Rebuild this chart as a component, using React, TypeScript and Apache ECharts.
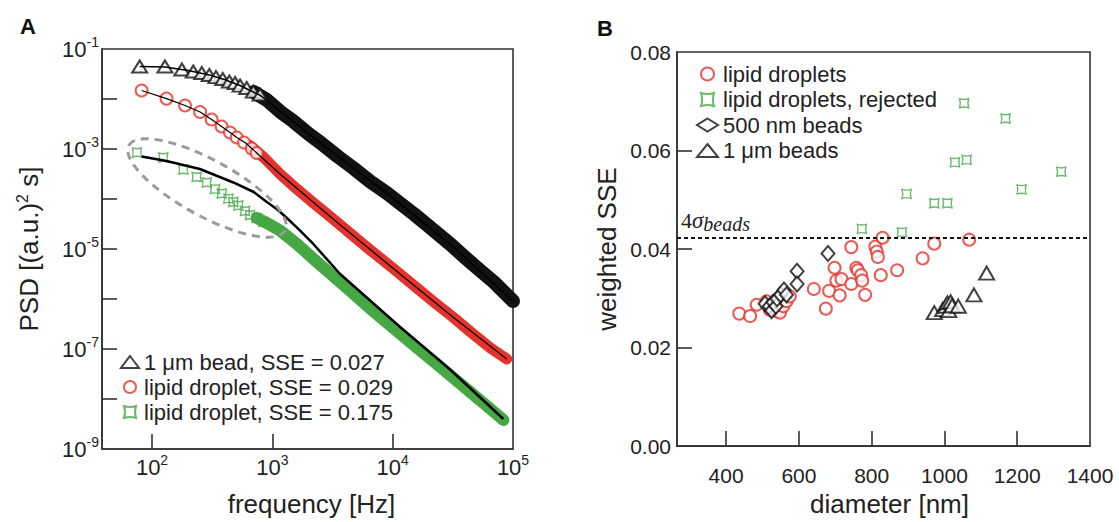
import React, { useEffect, useRef } from "react";
import * as echarts from "echarts";

// ---------- Panel A: PSD data, [frequency (Hz), PSD ((a.u.)^2 s)] ----------
// 1 um bead: individually resolved markers at low frequency
const beadMarkers: number[][] = [
  [79, 0.0447], [128, 0.0447], [177, 0.0389], [220, 0.0355], [259, 0.0331],
  [299, 0.0302], [340, 0.0275], [387, 0.0251], [439, 0.0224], [490, 0.0209],
  [539, 0.0186], [612, 0.0166], [695, 0.0141], [791, 0.0123],
];
// 1 um bead: dense (overlapping) marker band
const beadBand: number[][] = [
  [700, 0.0138], [900, 0.00955], [1159, 0.00562], [1500, 0.00355], [2000, 0.002],
  [2500, 0.00135], [3500, 7.08e-4], [4700, 4.17e-4], [6500, 2.24e-4], [8930, 1.32e-4],
  [12000, 7.59e-5], [15000, 5.01e-5], [20000, 2.82e-5], [30000, 1.26e-5],
  [40000, 6.76e-6], [53300, 3.72e-6], [70000, 2.14e-6], [100000, 9.12e-7],
];
const beadFit: number[][] = [
  [79, 0.0447], [128, 0.0437], [200, 0.0372], [300, 0.0302], [400, 0.0245],
  [550, 0.0182], [800, 0.0117], [1159, 0.00575], [2000, 0.002], [4700, 4.17e-4],
  [10000, 1.05e-4], [30000, 1.26e-5], [100000, 9.12e-7],
];

// lipid droplet, SSE = 0.029
const dropletMarkers: number[][] = [
  [82, 0.0148], [132, 0.0102], [188, 0.00741], [251, 0.0055], [313, 0.00389],
  [379, 0.00282], [445, 0.00214], [506, 0.0017], [582, 0.00135], [675, 0.00102],
  [742, 8.32e-4],
];
const dropletBand: number[][] = [
  [650, 0.00117], [850, 6.76e-4], [1159, 3.16e-4], [1600, 1.58e-4], [2200, 8.32e-5],
  [3162, 4.07e-5], [4500, 2.0e-5], [6500, 9.55e-6], [10000, 4.17e-6], [15000, 1.86e-6],
  [22000, 8.71e-7], [31623, 4.37e-7], [45000, 2.14e-7], [65000, 1.05e-7], [88700, 6.31e-8],
];
const dropletFit: number[][] = [
  [82, 0.0148], [132, 0.0102], [188, 0.00741], [251, 0.0055], [313, 0.00389],
  [379, 0.00282], [445, 0.00214], [506, 0.0017], [600, 0.00132], [742, 8.32e-4],
  [1159, 3.16e-4], [3162, 4.07e-5], [10000, 4.17e-6], [31623, 4.37e-7], [88700, 6.31e-8],
];

// lipid droplet, SSE = 0.175
const rejectedMarkers: number[][] = [
  [75, 8.51e-4], [124, 6.76e-4], [182, 3.89e-4], [235, 2.75e-4], [285, 2.14e-4],
  [334, 1.58e-4], [380, 1.29e-4], [431, 1.02e-4], [474, 8.71e-5], [522, 7.41e-5],
  [593, 5.75e-5], [653, 4.79e-5], [741, 4.17e-5], [842, 3.47e-5],
];
const rejectedBand: number[][] = [
  [741, 4.17e-5], [900, 3.31e-5], [1159, 2.34e-5], [1600, 1.26e-5], [2200, 6.31e-6],
  [3162, 2.95e-6], [4500, 1.41e-6], [6500, 6.46e-7], [10000, 2.69e-7], [15000, 1.2e-7],
  [22000, 5.62e-8], [31623, 2.69e-8], [45000, 1.32e-8], [65000, 6.31e-9], [83200, 3.8e-9],
];
const rejectedFit: number[][] = [
  [82, 7.08e-4], [132, 5.75e-4], [250, 3.98e-4], [474, 2.14e-4], [700, 1.38e-4],
  [900, 8.71e-5], [1100, 6.17e-5], [1320, 4.17e-5], [1700, 2.34e-5], [2190, 1.26e-5],
  [3656, 3.16e-6], [11530, 2.75e-7], [30000, 3.89e-8], [83200, 3.98e-9],
];

const legendA = [
  "1 μm bead, SSE = 0.027",
  "lipid droplet, SSE = 0.029",
  "lipid droplet, SSE = 0.175",
];

// ---------- Panel B: [diameter (nm), weighted SSE] ----------
const lipidDroplets: number[][] = [
  [436, 0.0269], [466, 0.0264], [484, 0.0287], [511, 0.0294], [520, 0.0277],
  [534, 0.0285], [540, 0.0274], [548, 0.0271], [557, 0.0284], [566, 0.0294],
  [575, 0.0304], [641, 0.0319], [674, 0.0279], [683, 0.0315], [698, 0.0362],
  [703, 0.0336], [712, 0.0306], [717, 0.0339], [744, 0.0404], [744, 0.0329],
  [758, 0.0362], [762, 0.0357], [771, 0.0347], [774, 0.0336], [782, 0.0307],
  [810, 0.0405], [814, 0.0395], [817, 0.0384], [830, 0.0423], [825, 0.0347],
  [870, 0.0357], [940, 0.0381], [972, 0.0411], [1068, 0.0419],
];
const lipidRejected: number[][] = [
  [773, 0.0441], [883, 0.0434], [896, 0.0512], [972, 0.0493], [1008, 0.0493],
  [1029, 0.0576], [1054, 0.0696], [1061, 0.0581], [1168, 0.0665], [1212, 0.0521],
  [1321, 0.0557],
];
const beads500: number[][] = [
  [507, 0.0289], [519, 0.0284], [525, 0.0275], [529, 0.0292], [537, 0.0284],
  [540, 0.0299], [550, 0.0307], [559, 0.0317], [566, 0.0307], [595, 0.0355],
  [595, 0.0329], [680, 0.0391],
];
const beads1um: number[][] = [
  [972, 0.0271], [995, 0.0277], [1004, 0.0284], [1008, 0.0291], [1012, 0.0275],
  [1017, 0.0293], [1021, 0.0285], [1038, 0.0284], [1081, 0.0307], [1116, 0.0351],
];
const sigmaThreshold = 0.0422;

const legendB = ["lipid droplets", "lipid droplets, rejected", "500 nm beads", "1 μm beads"];

// ---------- tick values ----------
const freqTicks = [100, 1000, 10000];
const freqLabels = [100, 1000, 10000, 100000];
const psdTicks = [1e-8, 1e-7, 1e-6, 1e-5, 1e-4, 1e-3, 1e-2];
const psdLabels = [1e-9, 1e-7, 1e-5, 1e-3, 1e-1];
const diameterTicks = [400, 600, 800, 1000, 1200];
const diameterLabels = [400, 600, 800, 1000, 1200, 1400];
const sseTicks = [0.02, 0.04, 0.06];
const sseLabels = [0, 0.02, 0.04, 0.06, 0.08];

const FONT = '"Liberation Sans", Arial, Helvetica, sans-serif';
const SERIF = '"Liberation Serif", "DejaVu Serif", serif';
const INK = "#222";
const AXIS = "#333";
const RED = "#e5322b";
const GREEN = "#45a843";
const GREEN_SYMBOL = "path://M0,0 Q5,1.6 10,0 Q8.4,5 10,10 Q5,8.4 0,10 Q1.6,5 0,0 Z";

function powLabel(v: number, allowed: number[]) {
  const e = Math.log10(v);
  const r = Math.round(e);
  if (Math.abs(e - r) > 1e-6) return "";
  if (!allowed.some((a) => Math.abs(Math.log10(a) - r) < 1e-6)) return "";
  return `{b|10}{s|${r}}`;
}

const supRich = {
  b: { fontSize: 22, fontFamily: FONT, color: INK },
  s: { fontSize: 14, fontFamily: FONT, color: INK, padding: [0, 0, 14, 0] },
};

export default function App() {
  const ref = useRef<HTMLDivElement>(null);
  useEffect(() => {
    if (!ref.current) return;
    const chart = echarts.init(ref.current, null, { renderer: "svg" });
    const lineCommon = { type: "line", symbol: "none", showSymbol: false, silent: true, smooth: false };
    const option: any = {
      animation: false,
      backgroundColor: "#fff",
      textStyle: { fontFamily: FONT },
      grid: [
        { left: 102, top: 49, width: 411, height: 403, show: true, borderColor: AXIS, borderWidth: 1.6, backgroundColor: "transparent" },
        { left: 677, top: 52, width: 413, height: 400, show: true, borderColor: AXIS, borderWidth: 1.6, backgroundColor: "transparent" },
      ],
      xAxis: [
        {
          gridIndex: 0, type: "log", logBase: 10, min: 38.4, max: 100000,
          name: "frequency [Hz]", nameLocation: "middle", nameGap: 42,
          nameTextStyle: { fontSize: 26, fontFamily: FONT, color: INK, padding: [0, 0, 0, 8] },
          axisLine: { show: true, onZero: false, lineStyle: { color: AXIS, width: 1.6 } },
          axisTick: { show: true, inside: true, length: 15, lineStyle: { color: AXIS, width: 1.6 }, customValues: freqTicks },
          minorTick: { show: false },
          splitLine: { show: false },
          axisLabel: {
            show: true, margin: 4, customValues: freqLabels,
            formatter: (v: number) => powLabel(v, freqLabels), rich: supRich,
          },
        },
        {
          gridIndex: 1, type: "value", min: 265, max: 1400,
          name: "diameter [nm]", nameLocation: "middle", nameGap: 42,
          nameTextStyle: { fontSize: 26, fontFamily: FONT, color: INK, padding: [0, 0, 0, 12] },
          axisLine: { show: true, onZero: false, lineStyle: { color: AXIS, width: 1.6 } },
          axisTick: { show: true, inside: true, length: 15, lineStyle: { color: AXIS, width: 1.6 }, customValues: diameterTicks },
          splitLine: { show: false },
          axisLabel: {
            show: true, margin: 19, customValues: diameterLabels, fontSize: 21, fontFamily: FONT, color: INK,
            formatter: (v: number) => (diameterLabels.includes(Math.round(v)) && Math.abs(v - Math.round(v)) < 1e-6 ? String(Math.round(v)) : ""),
          },
        },
      ],
      yAxis: [
        {
          gridIndex: 0, type: "log", logBase: 10, min: 1e-9, max: 1e-1,
          name: "PSD [(a.u.){s|2} s]", nameLocation: "middle", nameGap: 58, nameRotate: 90,
          nameTextStyle: {
            fontSize: 26, fontFamily: FONT, color: INK,
            rich: { s: { fontSize: 16, fontFamily: FONT, color: INK, padding: [0, 0, 14, 0] } },
          },
          axisLine: { show: true, onZero: false, lineStyle: { color: AXIS, width: 1.6 } },
          axisTick: { show: true, inside: true, length: 15, lineStyle: { color: AXIS, width: 1.6 }, customValues: psdTicks },
          minorTick: { show: false },
          splitLine: { show: false },
          axisLabel: {
            show: true, margin: 3, customValues: psdLabels,
            formatter: (v: number) => powLabel(v, psdLabels), rich: supRich,
          },
        },
        {
          gridIndex: 1, type: "value", min: 0, max: 0.08,
          name: "weighted SSE", nameLocation: "middle", nameGap: 57, nameRotate: 90,
          nameTextStyle: { fontSize: 26, fontFamily: FONT, color: INK },
          axisLine: { show: true, onZero: false, lineStyle: { color: AXIS, width: 1.6 } },
          axisTick: { show: true, inside: true, length: 15, lineStyle: { color: AXIS, width: 1.6 }, customValues: sseTicks },
          splitLine: { show: false },
          axisLabel: {
            show: true, margin: 6, customValues: sseLabels, fontSize: 21, fontFamily: FONT, color: INK,
            formatter: (v: number) => v.toFixed(2),
          },
        },
      ],
      legend: [
        {
          data: [
            { name: legendA[0], icon: "emptyTriangle" },
            { name: legendA[1], icon: "emptyCircle" },
            { name: legendA[2], icon: GREEN_SYMBOL },
          ],
          orient: "vertical", left: 120, top: 350, itemWidth: 18, itemHeight: 12, itemGap: 1,
          selectedMode: false, padding: 0,
          textStyle: { fontSize: 22, lineHeight: 24, color: INK, fontFamily: FONT },
        },
        {
          data: [
            { name: legendB[0], icon: "emptyCircle" },
            { name: legendB[1], icon: GREEN_SYMBOL },
            { name: legendB[2], icon: "emptyDiamond" },
            { name: legendB[3], icon: "emptyTriangle" },
          ],
          orient: "vertical", left: 696, top: 62, itemWidth: 21, itemHeight: 13, itemGap: 1.5,
          selectedMode: false, padding: 0,
          textStyle: { fontSize: 22, lineHeight: 24, color: INK, fontFamily: FONT },
        },
      ],
      graphic: [
        { type: "text", left: 20, top: 15, style: { text: "A", font: `bold 22px ${FONT}`, fill: "#111" } },
        { type: "text", left: 597, top: 17, style: { text: "B", font: `bold 22px ${FONT}`, fill: "#111" } },
        {
          type: "ellipse", x: 207, y: 188, rotation: -0.5, z: 20,
          shape: { cx: 0, cy: 0, rx: 89, ry: 28 },
          style: { fill: "none", stroke: "#9b9b9b", lineWidth: 3, lineDash: [8, 6] },
        },
      ],
      series: [
        // ----- Panel A -----
        { ...lineCommon, name: "bead band", xAxisIndex: 0, yAxisIndex: 0, data: beadBand,
          lineStyle: { color: "#111", width: 14, cap: "round", join: "round" }, z: 2 },
        { type: "scatter", name: legendA[0], xAxisIndex: 0, yAxisIndex: 0, data: beadMarkers,
          symbol: "emptyTriangle", symbolSize: [15, 12], itemStyle: { color: "#111", borderWidth: 1.4 }, z: 3 },
        { ...lineCommon, name: "droplet band", xAxisIndex: 0, yAxisIndex: 0, data: dropletBand,
          lineStyle: { color: RED, width: 11, cap: "round", join: "round" }, z: 2 },
        { type: "scatter", name: legendA[1], xAxisIndex: 0, yAxisIndex: 0, data: dropletMarkers,
          symbol: "emptyCircle", symbolSize: 12, itemStyle: { color: RED, borderWidth: 1.4 }, z: 3 },
        { ...lineCommon, name: "rejected band", xAxisIndex: 0, yAxisIndex: 0, data: rejectedBand,
          lineStyle: { color: GREEN, width: 12, cap: "round", join: "round" }, z: 2 },
        { type: "scatter", name: legendA[2], xAxisIndex: 0, yAxisIndex: 0, data: rejectedMarkers,
          symbol: GREEN_SYMBOL, symbolSize: 9, symbolKeepAspect: true,
          itemStyle: { color: "rgba(0,0,0,0)", borderColor: GREEN, borderWidth: 1.4 }, z: 3 },
        { ...lineCommon, name: "bead fit", xAxisIndex: 0, yAxisIndex: 0, data: beadFit,
          lineStyle: { color: "#000", width: 1.5 }, z: 5 },
        { ...lineCommon, name: "droplet fit", xAxisIndex: 0, yAxisIndex: 0, data: dropletFit,
          lineStyle: { color: "#000", width: 1.2 }, z: 5 },
        { ...lineCommon, name: "rejected fit", xAxisIndex: 0, yAxisIndex: 0, data: rejectedFit,
          lineStyle: { color: "#000", width: 2.5, join: "round" }, z: 5 },
        // ----- Panel B -----
        { type: "scatter", name: legendB[0], xAxisIndex: 1, yAxisIndex: 1, data: lipidDroplets,
          symbol: "emptyCircle", symbolSize: 12, itemStyle: { color: RED, borderWidth: 1.4 }, z: 3,
          markLine: {
            silent: true, symbol: ["none", "none"], precision: 4,
            lineStyle: { type: [4, 3], color: "#111", width: 2 },
            label: {
              show: true, position: "insideStartTop", distance: 4,
              formatter: "{n|4}{g|σ}{s|beads}",
              rich: {
                n: { fontFamily: SERIF, fontSize: 22, color: INK },
                g: { fontFamily: SERIF, fontStyle: "italic", fontSize: 23, color: INK },
                s: { fontFamily: SERIF, fontStyle: "italic", fontSize: 20, color: INK, padding: [8, 0, 0, 0] },
              },
            },
            data: [{ yAxis: sigmaThreshold }],
          } },
        { type: "scatter", name: legendB[1], xAxisIndex: 1, yAxisIndex: 1, data: lipidRejected,
          symbol: GREEN_SYMBOL, symbolSize: 9, symbolKeepAspect: true,
          itemStyle: { color: "rgba(0,0,0,0)", borderColor: GREEN, borderWidth: 1.4 }, z: 3 },
        { type: "scatter", name: legendB[2], xAxisIndex: 1, yAxisIndex: 1, data: beads500,
          symbol: "emptyDiamond", symbolSize: [13, 15], itemStyle: { color: "#111", borderWidth: 1.5 }, z: 4 },
        { type: "scatter", name: legendB[3], xAxisIndex: 1, yAxisIndex: 1, data: beads1um,
          symbol: "emptyTriangle", symbolSize: [15, 13], itemStyle: { color: "#111", borderWidth: 1.5 }, z: 4 },
      ],
    };
    chart.setOption(option);
    return () => chart.dispose();
  }, []);
  return (
    <div
      ref={ref}
      style={{ position: "fixed", left: 0, top: 0, width: 1119, height: 522, background: "#fff" }}
    />
  );
}
